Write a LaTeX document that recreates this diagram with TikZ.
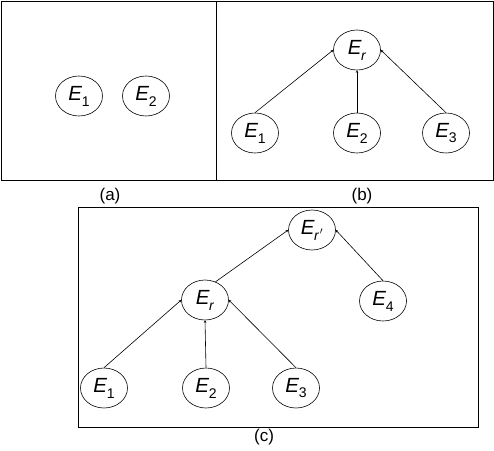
\documentclass[tikz,border=0pt]{standalone}
\usepackage{fontspec}
\setmainfont{Liberation Sans}
\usetikzlibrary{shapes.geometric,arrows.meta}
\newcommand{\ent}[1]{\textit{E}\kern-0.5pt\raisebox{-0.55ex}{\fontsize{14}{14}\selectfont #1}}
\begin{document}
\begin{tikzpicture}[x=1pt,y=-1pt,
  ent/.style={ellipse,draw,line width=0.6pt,minimum width=47pt,minimum height=40pt,inner sep=0pt,font=\fontsize{20.5}{20.5}\selectfont},
  link/.style={draw,line width=0.6pt,-{Stealth[length=2.5pt,width=2.5pt]}},
  panel/.style={draw,line width=1pt},
  captext/.style={font=\fontsize{17}{17}\selectfont}]
\useasboundingbox (0,0) rectangle (494,450);
% panels
\draw[panel] (1,1) rectangle (216,180);
\draw[panel] (216,1) rectangle (493,180);
\draw[panel] (78,207) rectangle (478,427);
\node[captext] (la) at (110,196) {(a)};
\node[captext] (lb) at (362,196) {(b)};
\node[captext] (lc) at (264,437) {(c)};
% (a)
\node[ent] (a1) at (79,96) {\ent{1}};
\node[ent] (a2) at (146,96) {\ent{2}};
% (b)
\node[ent] (br) at (357,50) {\ent{\textit{r}}};
\node[ent] (b1) at (255,133) {\ent{1}};
\node[ent] (b2) at (357,133) {\ent{2}};
\node[ent] (b3) at (446,133) {\ent{3}};
\draw[link] (b1.north) -- (br.west);
\draw[link] (b2.north) -- (br.south);
\draw[link] (b3.north) -- (br.east);
% (c)
\node[ent] (crr) at (312,230) {\ent{\textit{r}\kern0.5pt$'$}};
\node[ent] (c4) at (383,301) {\ent{4}};
\node[ent] (cr) at (205,300) {\ent{\textit{r}}};
\node[ent] (c1) at (104,388) {\ent{1}};
\node[ent] (c2) at (206,388) {\ent{2}};
\node[ent] (c3) at (296,388) {\ent{3}};
\draw[link] (cr.60) -- (crr.west);
\draw[link] (c4.north) -- (crr.east);
\draw[link] (c1.north) -- (cr.west);
\draw[link] (c2.north) -- (cr.south);
\draw[link] (c3.north) -- (cr.east);
\end{tikzpicture}
\end{document}
